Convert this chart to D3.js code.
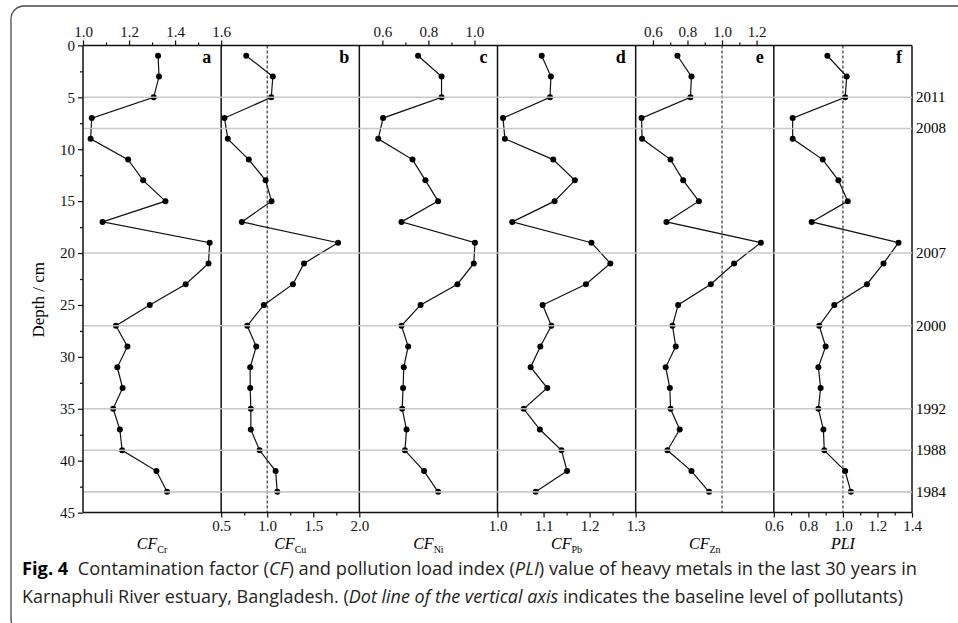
<!DOCTYPE html>
<html><head><meta charset="utf-8">
<script src="https://cdn.jsdelivr.net/npm/d3@7"></script>
<style>body{margin:0;background:#fff} svg{display:block}</style>
</head><body><svg id="c" width="958" height="623"></svg>
<script>
// ---------------- DATA ----------------
const depths = [1,3,5,7,9,11,13,15,17,19,21,23,25,27,29,31,33,35,37,39,41,43];
const cfCr = [1.326,1.330,1.307,1.038,1.033,1.196,1.261,1.358,1.085,1.550,1.545,1.446,1.290,1.143,1.193,1.149,1.172,1.131,1.160,1.170,1.319,1.365];
const cfCu = [0.772,1.061,1.044,0.536,0.572,0.800,0.982,1.047,0.724,1.769,1.399,1.279,0.964,0.783,0.881,0.815,0.815,0.822,0.822,0.917,1.091,1.109];
const cfNi = [0.755,0.857,0.857,0.603,0.582,0.731,0.787,0.842,0.683,1.002,0.997,0.926,0.766,0.683,0.712,0.693,0.690,0.686,0.705,0.698,0.781,0.842];
const cfPb = [1.096,1.116,1.114,1.012,1.016,1.121,1.168,1.124,1.032,1.204,1.245,1.192,1.098,1.117,1.093,1.072,1.108,1.057,1.092,1.139,1.151,1.083];
const cfZn = [0.742,0.823,0.817,0.534,0.537,0.702,0.775,0.866,0.678,1.225,1.070,0.935,0.746,0.713,0.732,0.674,0.698,0.702,0.755,0.684,0.823,0.925];
const pli  = [0.910,1.022,1.013,0.709,0.709,0.883,0.974,1.028,0.819,1.322,1.235,1.139,0.950,0.863,0.900,0.858,0.871,0.858,0.887,0.892,1.013,1.046];

const panelLetters = ["a","b","c","d","e","f"];
const panelTitles = [["CF","Cr"],["CF","Cu"],["CF","Ni"],["CF","Pb"],["CF","Zn"],["PLI",""]];
const panelDomains = [[1.0,1.6],[0.5,2.0],[0.5,1.1],[1.0,1.3],[0.5,1.3],[0.6,1.4]];
const axisSides = ["top","bottom","top","bottom","top","bottom"];
const majorTicks = [[1.0,1.2,1.4,1.6],[0.5,1.0,1.5,2.0],[0.6,0.8,1.0],[1.0,1.1,1.2,1.3],[0.6,0.8,1.0,1.2],[0.6,0.8,1.0,1.2,1.4]];
const minorTicks = [[1.1,1.3,1.5],[0.75,1.25,1.75],[0.7,0.9],[1.05,1.15,1.25],[0.7,0.9,1.1],[0.7,0.9,1.1,1.3]];
const baseline = [null,1.0,null,null,1.0,1.0];

const depthTicks = [0,5,10,15,20,25,30,35,40,45];
const depthMinor = [2.5,7.5,12.5,17.5,22.5,27.5,32.5,37.5,42.5];
const yearDepths = [5,8,20,27,35,39,43];
const yearLabels = ["2011","2008","2007","2000","1992","1988","1984"];

const series = [cfCr,cfCu,cfNi,cfPb,cfZn,pli];

// ---------------- LAYOUT ----------------
const svg = d3.select("#c");
const L = 83, R = 912, T = 45.4, B = 512.6;
const W = (R - L) / 6;
const serif = "'Liberation Serif','Times New Roman',serif";

// frame
svg.append("rect").attr("x",11).attr("y",6).attr("width",1000).attr("height",626)
  .attr("rx",13).attr("fill","none").attr("stroke","#4a4a4a").attr("stroke-width",1.3);

const y = d3.scaleLinear().domain([0,45]).range([T,B]);

// panels
series.forEach((vals,i) => {
  const x0 = L + i*W;
  const x = d3.scaleLinear().domain(panelDomains[i]).range([x0, x0+W]);
  const g = svg.append("g");

  if (baseline[i] !== null) {
    g.append("line").attr("x1",x(baseline[i])).attr("x2",x(baseline[i]))
      .attr("y1",T).attr("y2",B).attr("stroke","#333").attr("stroke-width",1.2)
      .attr("stroke-dasharray","3,2");
  }

  const line = d3.line().x(d=>x(d[0])).y(d=>y(d[1]));
  const pts = vals.map((v,k)=>[v,depths[k]]);
  g.append("path").attr("d",line(pts)).attr("fill","none").attr("stroke","#111").attr("stroke-width",1.2);
  g.selectAll("circle").data(pts).join("circle")
    .attr("cx",d=>x(d[0])).attr("cy",d=>y(d[1])).attr("r",3).attr("fill","#000");

  // axes
  const side = axisSides[i];
  const mk = side === "top" ? d3.axisTop : d3.axisBottom;
  const ay = side === "top" ? T : B;
  const ax = svg.append("g").attr("transform",`translate(0,${ay})`)
    .call(mk(x).tickValues(majorTicks[i]).tickSize(5).tickPadding(3).tickFormat(d3.format(".1f")));
  ax.select(".domain").remove();
  ax.selectAll("text").attr("font-family",serif).attr("font-size",15).attr("fill","#111");
  ax.selectAll("line").attr("stroke","#111").attr("stroke-width",1.2);
  const axm = svg.append("g").attr("transform",`translate(0,${ay})`)
    .call(mk(x).tickValues(minorTicks[i]).tickSize(3).tickFormat(""));
  axm.select(".domain").remove();
  axm.selectAll("line").attr("stroke","#111").attr("stroke-width",1.2);

  // letter
  svg.append("text").attr("x",x0+W-10).attr("y",T+18).attr("text-anchor","end")
    .attr("font-family",serif).attr("font-weight","bold").attr("font-size",18).text(panelLetters[i]);

  // title
  const t = svg.append("text").attr("x",x0+W/2).attr("y",549).attr("text-anchor","middle")
    .attr("font-family",serif).attr("font-size",16);
  t.append("tspan").attr("font-style","italic").text(panelTitles[i][0]);
  if (panelTitles[i][1]) t.append("tspan").attr("font-size",10).attr("dy",4).text(panelTitles[i][1]);
});

// panel borders
const bx = d3.range(7).map(k=>L+k*W);
svg.selectAll("line.vb").data(bx).join("line").attr("class","vb")
  .attr("x1",d=>d).attr("x2",d=>d).attr("y1",T).attr("y2",B).attr("stroke","#111").attr("stroke-width",1.5);
svg.append("line").attr("x1",L).attr("x2",R).attr("y1",T).attr("y2",T).attr("stroke","#111").attr("stroke-width",1.5);
svg.append("line").attr("x1",L).attr("x2",R).attr("y1",B).attr("y2",B).attr("stroke","#111").attr("stroke-width",1.5);

// left axis
const la = svg.append("g").attr("transform",`translate(${L},0)`)
  .call(d3.axisLeft(y).tickValues(depthTicks).tickSize(5).tickPadding(3));
la.select(".domain").remove();
la.selectAll("text").attr("font-family",serif).attr("font-size",15).attr("fill","#111");
la.selectAll("line").attr("stroke","#111").attr("stroke-width",1.2);
const lm = svg.append("g").attr("transform",`translate(${L},0)`)
  .call(d3.axisLeft(y).tickValues(depthMinor).tickSize(3).tickFormat(""));
lm.select(".domain").remove();
lm.selectAll("line").attr("stroke","#111").attr("stroke-width",1.2);

svg.append("text").attr("transform",`translate(44,${y(24.5)}) rotate(-90)`)
  .attr("text-anchor","middle").attr("font-family",serif).attr("font-size",17).text("Depth / cm");

// year lines
svg.selectAll("line.yr").data(yearDepths).join("line").attr("class","yr")
  .attr("x1",L+1).attr("x2",R).attr("y1",d=>y(d)).attr("y2",d=>y(d))
  .attr("stroke","#c4c4c4").attr("stroke-width",1.6).attr("opacity",0.9);
svg.selectAll("text.yr").data(yearDepths).join("text").attr("class","yr")
  .attr("x",R+4).attr("y",d=>y(d)+5).attr("font-family",serif).attr("font-size",15)
  .text((d,k)=>yearLabels[k]);

// caption
const sans = "'Open Sans','Noto Sans',sans-serif";
const c1 = svg.append("text").attr("x",22).attr("y",575).attr("font-family",sans).attr("font-size",18)
  .attr("fill","#231f20").attr("textLength",895).attr("lengthAdjust","spacingAndGlyphs");
c1.append("tspan").attr("font-weight","bold").attr("fill","#000").text("Fig. 4");
c1.append("tspan").text("\u00a0 Contamination factor (");
c1.append("tspan").attr("font-style","italic").text("CF");
c1.append("tspan").text(") and pollution load index (");
c1.append("tspan").attr("font-style","italic").text("PLI");
c1.append("tspan").text(") value of heavy metals in the last 30 years in");
const c2 = svg.append("text").attr("x",22).attr("y",603).attr("font-family",sans).attr("font-size",18)
  .attr("fill","#231f20").attr("textLength",881).attr("lengthAdjust","spacingAndGlyphs");
c2.append("tspan").text("Karnaphuli River estuary, Bangladesh. (");
c2.append("tspan").attr("font-style","italic").text("Dot line of the vertical axis");
c2.append("tspan").text(" indicates the baseline level of pollutants)");
</script></body></html>
